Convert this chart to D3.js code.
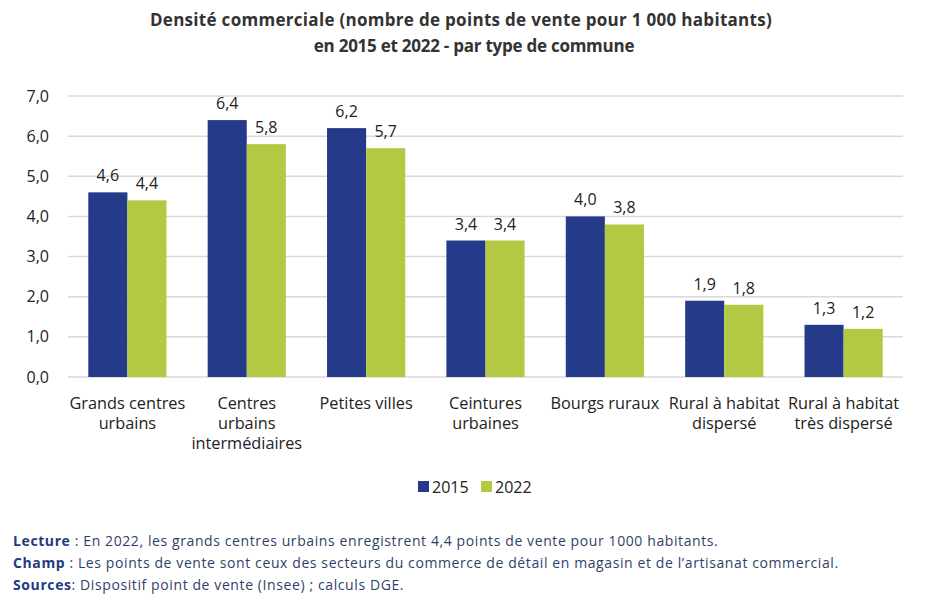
<!DOCTYPE html>
<html>
<head>
<meta charset="utf-8">
<script src="https://cdn.jsdelivr.net/npm/d3@7"></script>
<style>
  body { margin: 0; background: #fff; }
  svg { display: block; }
</style>
</head>
<body>
<div id="chart"></div>
<script>
const categories = [
  ["Grands centres", "urbains"],
  ["Centres", "urbains", "intermédiaires"],
  ["Petites villes"],
  ["Ceintures", "urbaines"],
  ["Bourgs ruraux"],
  ["Rural à habitat", "dispersé"],
  ["Rural à habitat", "très dispersé"]
];
const years = ["2015", "2022"];
const values2015 = [4.6, 6.4, 6.2, 3.4, 4.0, 1.9, 1.3];
const values2022 = [4.4, 5.8, 5.7, 3.4, 3.8, 1.8, 1.2];
const yTicks = [0, 1, 2, 3, 4, 5, 6, 7];
const colors = ["#263a8a", "#b3c843"];

const width = 942, height = 597;
const margin = { left: 68, right: 39, top: 96, bottom: 220 };
const fontFam = "'Open Sans', sans-serif";
const fmt = v => d3.format(".1f")(v).replace(".", ",");

const svg = d3.select("#chart").append("svg")
  .attr("width", width).attr("height", height);

// titre
const title = svg.append("g")
  .attr("font-family", fontFam)
  .attr("font-weight", 700)
  .attr("font-size", "17px")
  .attr("fill", "#333")
  .attr("text-anchor", "middle");
title.append("text").attr("x", 461).attr("y", 26)
  .attr("letter-spacing", "0.3px")
  .text("Densité commerciale (nombre de points de vente pour 1 000 habitants)");
title.append("text").attr("x", 474).attr("y", 52)
  .attr("letter-spacing", "-0.25px")
  .text("en 2015 et 2022 - par type de commune");

const x = d3.scaleBand()
  .domain(d3.range(categories.length))
  .range([margin.left, width - margin.right])
  .paddingInner(0.345)
  .paddingOuter(0.17);

const xSub = d3.scaleBand()
  .domain(years)
  .range([0, x.bandwidth()]);

const y = d3.scaleLinear()
  .domain([0, 7])
  .range([377, 96]);

// grille
svg.append("g")
  .selectAll("line")
  .data(yTicks)
  .join("line")
    .attr("x1", margin.left)
    .attr("x2", width - margin.right)
    .attr("y1", d => y(d))
    .attr("y2", d => y(d))
    .attr("stroke", "#d9d9d9")
    .attr("stroke-width", 1.5);

// axe y
const yAxis = svg.append("g")
  .attr("transform", `translate(${margin.left - 16},0)`)
  .call(d3.axisLeft(y).tickValues(yTicks).tickFormat(fmt).tickSize(0));
yAxis.select(".domain").remove();
yAxis.selectAll("text")
  .attr("font-family", fontFam)
  .attr("font-size", "16px")
  .attr("fill", "#222");

// barres
const data = categories.map((c, i) => ({
  i,
  vals: [
    { year: "2015", v: values2015[i] },
    { year: "2022", v: values2022[i] }
  ]
}));

const groups = svg.append("g")
  .selectAll("g")
  .data(data)
  .join("g")
    .attr("transform", d => `translate(${x(d.i)},0)`);

groups.selectAll("rect")
  .data(d => d.vals)
  .join("rect")
    .attr("x", d => xSub(d.year))
    .attr("y", d => y(d.v))
    .attr("width", xSub.bandwidth())
    .attr("height", d => y(0) - y(d.v))
    .attr("fill", (d, j) => colors[j]);

groups.selectAll("text")
  .data(d => d.vals)
  .join("text")
    .attr("x", d => xSub(d.year) + xSub.bandwidth() / 2)
    .attr("y", d => y(d.v) - 11)
    .attr("text-anchor", "middle")
    .attr("font-family", fontFam)
    .attr("font-size", "16px")
    .attr("fill", "#222")
    .text(d => fmt(d.v));

// libellés catégories
const catLabels = svg.append("g")
  .attr("font-family", fontFam)
  .attr("font-size", "16.3px")
  .attr("fill", "#222")
  .attr("text-anchor", "middle");
categories.forEach((lines, i) => {
  const t = catLabels.append("text")
    .attr("x", x(i) + x.bandwidth() / 2)
    .attr("y", 409);
  lines.forEach((l, k) => {
    t.append("tspan")
      .attr("x", x(i) + x.bandwidth() / 2)
      .attr("dy", k === 0 ? 0 : 20)
      .text(l);
  });
});

// légende
const legend = svg.append("g")
  .attr("font-family", fontFam)
  .attr("font-size", "16px")
  .attr("fill", "#222");
const legX = [418, 481];
years.forEach((yr, j) => {
  legend.append("rect")
    .attr("x", legX[j]).attr("y", 481)
    .attr("width", 11).attr("height", 11)
    .attr("fill", colors[j]);
  legend.append("text")
    .attr("x", legX[j] + 14).attr("y", 493)
    .text(yr);
});

// notes
const notes = [
  ["Lecture", " : En 2022, les grands centres urbains enregistrent 4,4 points de vente pour 1000 habitants."],
  ["Champ", " : Les points de vente sont ceux des secteurs du commerce de détail en magasin et de l’artisanat commercial."],
  ["Sources", ": Dispositif point de vente (Insee) ; calculs DGE."]
];
const noteG = svg.append("g")
  .attr("font-family", fontFam)
  .attr("font-size", "14px")
  .attr("letter-spacing", "0.6px");
notes.forEach((n, k) => {
  const t = noteG.append("text").attr("x", 13).attr("y", 546 + k * 22);
  t.append("tspan").attr("font-weight", 700).attr("fill", "#243a80").text(n[0]);
  t.append("tspan").attr("fill", "#2f3f6a").text(n[1]);
});
</script>
</body>
</html>
